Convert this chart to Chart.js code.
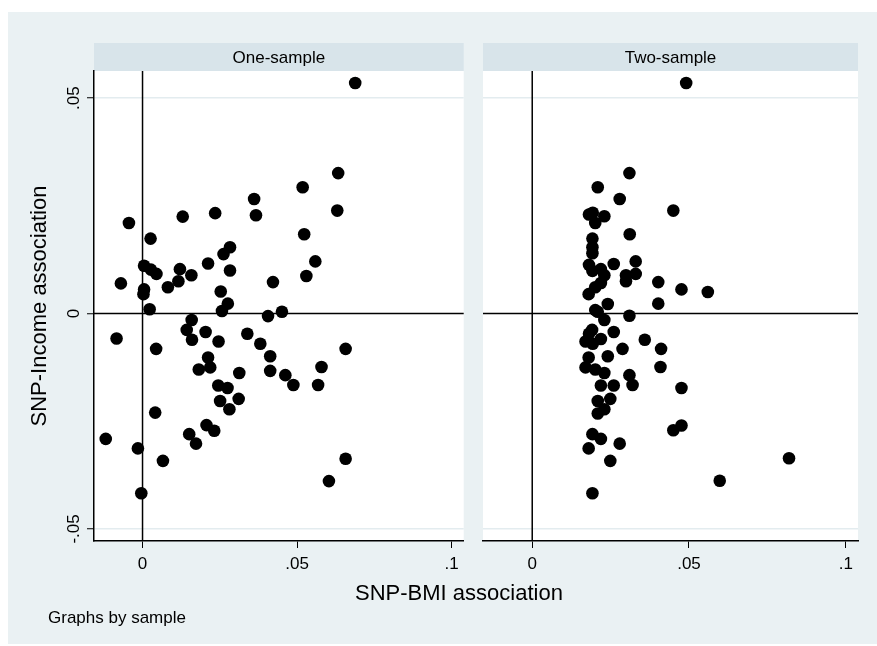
<!DOCTYPE html>
<html>
<head>
<meta charset="utf-8">
<script src="https://cdn.jsdelivr.net/npm/chart.js@4.4.1/dist/chart.umd.min.js"></script>
<style>
  body { margin: 0; background: #fff; font-family: "Liberation Sans", Arial, sans-serif; }
  #page { position: relative; width: 877px; height: 646px; overflow: hidden; }
  #bg { position: absolute; left: 8px; top: 12px; width: 869px; height: 632px; background: #eaf1f3; }
  canvas { position: absolute; top: 0; }
  #oneCanvas { left: 0; }
  #twoCanvas { left: 470px; }
  .xtitle { position: absolute; left: 259px; width: 400px; top: 580px; text-align: center; font-size: 22px; line-height: 26px; color: #000; }
  .note { position: absolute; left: 48px; top: 608px; font-size: 17px; line-height: 19px; color: #000; }
</style>
</head>
<body>
<div id="page">
  <div id="bg"></div>
  <canvas id="oneCanvas" width="470" height="646"></canvas>
  <canvas id="twoCanvas" width="407" height="646"></canvas>
  <div class="xtitle">SNP-BMI association</div>
  <div class="note">Graphs by sample</div>
</div>
<script>
/* data */
const panels = ["One-sample", "Two-sample"];

const oneX = [0.0361, 0.0367, 0.0235, 0.0130, -0.0044, 0.0026, 0.0283, 0.0262, 0.0212, 0.0005,
  0.0027, 0.0045, 0.0121, 0.0158, 0.0283, 0.0116, 0.0082, -0.0070, 0.0005, 0.0003,
  0.0422, 0.0253, 0.0276, 0.0257, 0.0023, 0.0406, 0.0451, 0.0159, 0.0688, 0.0633,
  0.0518, 0.0630, 0.0523, 0.0559, 0.0530, 0.0143, 0.0204, 0.0160, 0.0246, 0.0339,
  0.0381, -0.0084, 0.0044, 0.0212, 0.0219, 0.0182, 0.0413, 0.0413, 0.0462, 0.0313,
  0.0245, 0.0275, 0.0251, 0.0311, 0.0281, 0.0041, 0.0207, 0.0232, 0.0151, 0.0173,
  -0.0119, -0.0015, 0.0066, -0.0004, 0.0657, 0.0579, 0.0488, 0.0568, 0.0657, 0.0603];
const oneY = [0.0266, 0.0228, 0.0233, 0.0225, 0.0210, 0.0174, 0.0154, 0.0138, 0.0116, 0.0111,
  0.0102, 0.0092, 0.0103, 0.0089, 0.0100, 0.0075, 0.0061, 0.0070, 0.0056, 0.0045,
  0.0073, 0.0051, 0.0023, 0.0006, 0.0010, -0.0006, 0.0004, -0.0015, 0.0535, 0.0326,
  0.0293, 0.0239, 0.0184, 0.0121, 0.0087, -0.0038, -0.0043, -0.0061, -0.0065, -0.0047,
  -0.0070, -0.0058, -0.0082, -0.0102, -0.0125, -0.0130, -0.0099, -0.0133, -0.0143, -0.0138,
  -0.0167, -0.0173, -0.0203, -0.0198, -0.0222, -0.0230, -0.0259, -0.0272, -0.0280, -0.0302,
  -0.0291, -0.0313, -0.0342, -0.0417, -0.0082, -0.0124, -0.0166, -0.0166, -0.0337, -0.0389];

const twoX = [0.0310, 0.0209, 0.0279, 0.0181, 0.0193, 0.0230, 0.0201, 0.0450, 0.0311, 0.0192,
  0.0192, 0.0192, 0.0181, 0.0192, 0.0219, 0.0230, 0.0260, 0.0330, 0.0299, 0.0299,
  0.0330, 0.0219, 0.0201, 0.0180, 0.0402, 0.0402, 0.0476, 0.0491, 0.0560, 0.0411,
  0.0409, 0.0476, 0.0450, 0.0476, 0.0819, 0.0598, 0.0241, 0.0201, 0.0209, 0.0310,
  0.0230, 0.0260, 0.0191, 0.0181, 0.0219, 0.0170, 0.0193, 0.0359, 0.0288, 0.0180,
  0.0241, 0.0170, 0.0201, 0.0230, 0.0310, 0.0219, 0.0260, 0.0320, 0.0249, 0.0209,
  0.0230, 0.0209, 0.0192, 0.0219, 0.0279, 0.0180, 0.0249, 0.0192];
const twoY = [0.0326, 0.0293, 0.0266, 0.0230, 0.0234, 0.0226, 0.0210, 0.0239, 0.0184, 0.0174,
  0.0154, 0.0140, 0.0113, 0.0099, 0.0103, 0.0089, 0.0115, 0.0121, 0.0089, 0.0075,
  0.0092, 0.0071, 0.0061, 0.0045, 0.0073, 0.0023, 0.0056, 0.0535, 0.0050, -0.0082,
  -0.0124, -0.0173, -0.0271, -0.0260, -0.0336, -0.0388, 0.0022, 0.0008, 0.0004, -0.0005,
  -0.0015, -0.0043, -0.0038, -0.0047, -0.0059, -0.0065, -0.0070, -0.0061, -0.0082, -0.0102,
  -0.0099, -0.0125, -0.0130, -0.0138, -0.0143, -0.0167, -0.0167, -0.0166, -0.0198, -0.0203,
  -0.0222, -0.0232, -0.0280, -0.0291, -0.0302, -0.0313, -0.0342, -0.0417];

const xTicks = [0, 0.05, 0.1];
const xTickLabels = ["0", ".05", ".1"];
const yTicks = [-0.05, 0, 0.05];
const yTickLabels = ["-.05", "0", ".05"];

const FONT = '"Liberation Sans", Arial, sans-serif';
Chart.defaults.font.family = FONT;
Chart.defaults.color = "#000";

/* header strip, white plot area, reference lines, rotated y labels */
const panelBits = {
  id: "panelBits",
  beforeDraw(chart, args, opts) {
    const { ctx, chartArea: a } = chart;
    ctx.save();
    ctx.fillStyle = "#fff";
    ctx.fillRect(a.left, a.top, a.right - a.left, a.bottom - a.top);
    ctx.fillStyle = "#d8e4ea";
    ctx.fillRect(a.left, 43, a.right - a.left, a.top - 43);
    ctx.fillStyle = "#000";
    ctx.font = "17px " + FONT;
    ctx.textAlign = "center";
    ctx.textBaseline = "middle";
    ctx.fillText(opts.title, (a.left + a.right) / 2, 58);
    ctx.restore();
  },
  beforeDatasetsDraw(chart) {
    const { ctx, chartArea: a, scales: { x, y } } = chart;
    const x0 = x.getPixelForValue(0);
    const y0 = y.getPixelForValue(0);
    ctx.save();
    ctx.strokeStyle = "#000";
    ctx.lineWidth = 1.5;
    ctx.beginPath();
    ctx.moveTo(a.left, y0);
    ctx.lineTo(a.right, y0);
    ctx.moveTo(x0, a.top);
    ctx.lineTo(x0, a.bottom);
    ctx.stroke();
    ctx.restore();
  },
  afterDraw(chart, args, opts) {
    if (!opts.yLabels) return;
    const { ctx, scales: { y } } = chart;
    ctx.save();
    ctx.fillStyle = "#000";
    ctx.font = "17px " + FONT;
    ctx.textAlign = "center";
    ctx.textBaseline = "middle";
    yTicks.forEach((v, i) => {
      ctx.save();
      ctx.translate(74, y.getPixelForValue(v));
      ctx.rotate(-Math.PI / 2);
      ctx.fillText(yTickLabels[i], 0, 0);
      ctx.restore();
    });
    ctx.restore();
  }
};

function makePanel(canvasId, title, xs, ys, showY, padding) {
  new Chart(document.getElementById(canvasId), {
    type: "scatter",
    data: {
      datasets: [{
        data: xs.map((v, i) => ({ x: v, y: ys[i] })),
        backgroundColor: "#000",
        borderWidth: 0,
        pointRadius: 6.3,
        pointHoverRadius: 6.3
      }]
    },
    options: {
      responsive: false,
      devicePixelRatio: 1,
      animation: false,
      events: [],
      layout: { padding: padding },
      plugins: {
        legend: { display: false },
        tooltip: { enabled: false },
        panelBits: { title: title, yLabels: showY }
      },
      scales: {
        x: {
          type: "linear",
          min: -0.0157,
          max: 0.1039,
          afterBuildTicks: s => { s.ticks = xTicks.map(v => ({ value: v })); },
          afterFit: s => { s.height = 105; },
          grid: { drawOnChartArea: false, drawTicks: true, tickLength: 7, tickColor: "#000", tickWidth: 1 },
          border: { display: true, color: "#000", width: 1.5 },
          ticks: {
            font: { size: 17 },
            color: "#000",
            padding: 6,
            maxRotation: 0,
            autoSkip: false,
            callback: (v, i) => xTickLabels[i]
          }
        },
        y: {
          type: "linear",
          min: -0.0528,
          max: 0.0563,
          afterBuildTicks: s => { s.ticks = yTicks.map(v => ({ value: v })); },
          afterFit: s => { s.width = showY ? 94 : 0; },
          grid: {
            color: c => (c.tick && c.tick.value === 0) ? "rgba(0,0,0,0)" : "#e3ecef",
            lineWidth: 1.5,
            drawTicks: showY,
            tickLength: 7,
            tickColor: "#000",
            tickWidth: 1
          },
          border: { display: showY, color: "#000", width: 1.5 },
          ticks: { display: false },
          title: {
            display: showY,
            text: "SNP-Income association",
            font: { size: 22 },
            color: "#000",
            padding: { top: 27, bottom: 0 }
          }
        }
      }
    },
    plugins: [panelBits]
  });
}

makePanel("oneCanvas", panels[0], oneX, oneY, true, { top: 71, right: 2, bottom: 0, left: 0 });
makePanel("twoCanvas", panels[1], twoX, twoY, false, { top: 71, right: 19, bottom: 0, left: 13 });
</script>
</body>
</html>
